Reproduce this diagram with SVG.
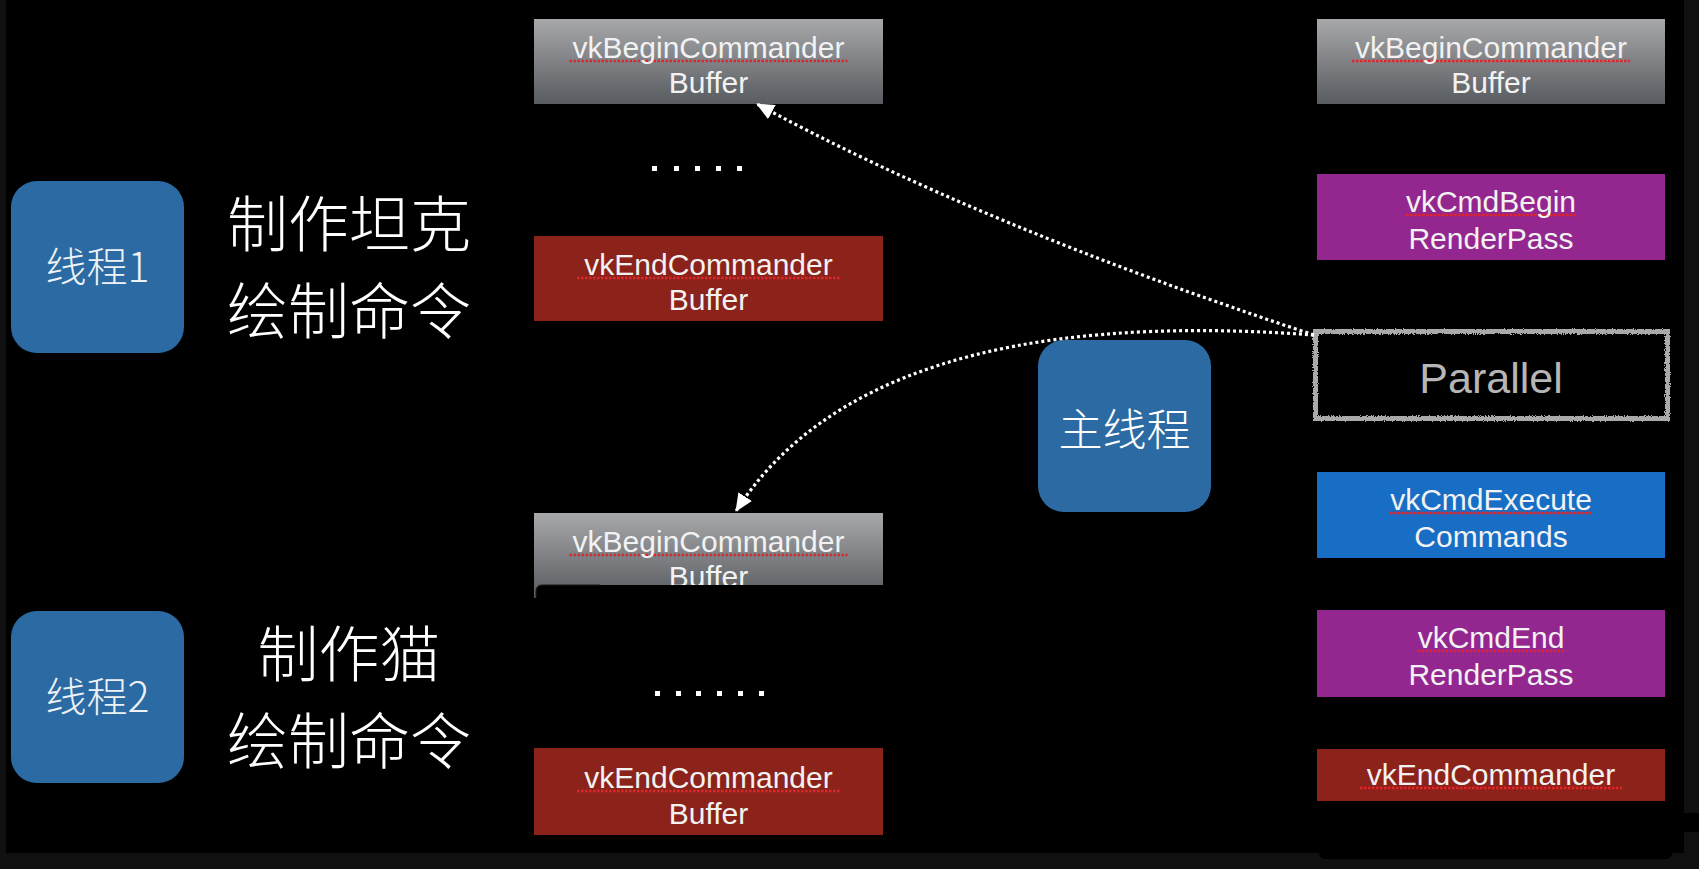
<svg xmlns="http://www.w3.org/2000/svg" width="1699" height="869" viewBox="0 0 1699 869">
  <defs>
    <linearGradient id="gGray" x1="0" y1="0" x2="0" y2="1">
      <stop offset="0" stop-color="#a7a8aa"/>
      <stop offset="1" stop-color="#585b5f"/>
    </linearGradient>
    <filter id="rough" x="-5%" y="-20%" width="110%" height="140%">
      <feTurbulence type="fractalNoise" baseFrequency="0.9" numOctaves="1" seed="3" result="n"/>
      <feDisplacementMap in="SourceGraphic" in2="n" scale="4" xChannelSelector="R" yChannelSelector="G"/>
    </filter>
    <marker id="arrow" markerUnits="userSpaceOnUse" viewBox="0 0 18 16" refX="17" refY="8" markerWidth="18" markerHeight="16" orient="auto">
      <path d="M0,0 L18,8 L0,16 z" fill="#ffffff"/>
    </marker>
    <style>
      .lat { font-family: "Liberation Sans", Arial, sans-serif; font-size: 30px; fill: #f2f2f2; text-anchor: middle; }
      .cjk { font-family: "Noto Sans CJK SC", "Noto Sans", sans-serif; fill: #ffffff; text-anchor: middle; font-weight: 300; }
      .big { font-size: 61px; }
      .thr { font-size: 41px; fill: #eef2f6; }
      .tbox { fill: #2b6aa2; }
      .gray { fill: url(#gGray); }
      .red { fill: #8c231a; }
      .purple { fill: #93278f; }
      .blue { fill: #176ec4; }
      .squig { stroke: #e0262a; stroke-width: 2.6; stroke-dasharray: 2.5 1.5; fill: none; }
      .dot { fill: #ffffff; }
      .conn { fill: none; stroke: #ffffff; stroke-width: 3.2; stroke-dasharray: 3 3; }
    </style>
  </defs>

  <!-- background frame -->
  <rect x="0" y="0" width="1699" height="869" fill="#101010"/>
  <rect x="6" y="0" width="1678" height="853" fill="#000000"/>
  <rect x="1672" y="813" width="27" height="19" fill="#000000"/>
  <rect x="1319" y="790" width="353" height="69" rx="6" fill="#000000"/>

  <!-- left: threads -->
  <g id="thread1">
    <rect class="tbox" x="11" y="181" width="173" height="172" rx="26"/>
    <text class="cjk thr" x="97.5" y="282">线程1</text>
  </g>
  <g id="thread1-label">
    <text class="cjk big" x="349" y="247">制作坦克</text>
    <text class="cjk big" x="349" y="334">绘制命令</text>
  </g>
  <g id="thread2">
    <rect class="tbox" x="11" y="611" width="173" height="172" rx="26"/>
    <text class="cjk thr" x="97.5" y="712">线程2</text>
  </g>
  <g id="thread2-label">
    <text class="cjk big" x="349" y="677">制作猫</text>
    <text class="cjk big" x="349" y="764">绘制命令</text>
  </g>
  <g id="main-thread">
    <rect class="tbox" x="1038" y="340" width="173" height="172" rx="26"/>
    <text class="cjk" x="1124.5" y="446" font-size="44" fill="#eef2f6">主线程</text>
  </g>

  <!-- middle column: thread 1 -->
  <g id="t1-begin">
    <rect class="gray" x="534" y="19" width="349" height="85"/>
    <line class="squig" x1="569.5" y1="61" x2="847.5" y2="61"/>
    <text class="lat" x="708.5" y="58">vkBeginCommander</text>
    <text class="lat" x="708.5" y="93">Buffer</text>
  </g>
  <g id="t1-dots">
    <rect class="dot" x="652" y="166" width="5" height="5"/>
    <rect class="dot" x="674" y="166" width="5" height="5"/>
    <rect class="dot" x="695" y="166" width="5" height="5"/>
    <rect class="dot" x="716" y="166" width="5" height="5"/>
    <rect class="dot" x="737" y="166" width="5" height="5"/>
  </g>
  <g id="t1-end">
    <rect class="red" x="534" y="236" width="349" height="85"/>
    <line class="squig" x1="577" y1="278" x2="840" y2="278"/>
    <text class="lat" x="708.5" y="275">vkEndCommander</text>
    <text class="lat" x="708.5" y="310">Buffer</text>
  </g>

  <!-- middle column: thread 2 -->
  <g id="t2-begin">
    <rect class="gray" x="534" y="513" width="349" height="85"/>
    <line class="squig" x1="569.5" y1="555" x2="847.5" y2="555"/>
    <text class="lat" x="708.5" y="552">vkBeginCommander</text>
    <text class="lat" x="708.5" y="587">Buffer</text>
    <rect x="536" y="585" width="370" height="110" rx="6" fill="#000000"/>
    <path d="M536,598 L536,591 Q536,585 542,585 L600,585" fill="none" stroke="#1c1c1c" stroke-width="1"/>
  </g>
  <g id="t2-dots">
    <rect class="dot" x="655" y="691" width="5" height="5"/>
    <rect class="dot" x="676" y="691" width="5" height="5"/>
    <rect class="dot" x="696" y="691" width="5" height="5"/>
    <rect class="dot" x="717" y="691" width="5" height="5"/>
    <rect class="dot" x="738" y="691" width="5" height="5"/>
    <rect class="dot" x="759" y="691" width="5" height="5"/>
  </g>
  <g id="t2-end">
    <rect class="red" x="534" y="748" width="349" height="87"/>
    <line class="squig" x1="577" y1="791" x2="840" y2="791"/>
    <text class="lat" x="708.5" y="788">vkEndCommander</text>
    <text class="lat" x="708.5" y="824">Buffer</text>
  </g>

  <!-- right column: main thread commands -->
  <g id="m-begin">
    <rect class="gray" x="1317" y="19" width="348" height="85"/>
    <line class="squig" x1="1352" y1="61" x2="1630" y2="61"/>
    <text class="lat" x="1491" y="58">vkBeginCommander</text>
    <text class="lat" x="1491" y="93">Buffer</text>
  </g>
  <g id="m-beginpass">
    <rect class="purple" x="1317" y="174" width="348" height="86"/>
    <line class="squig" x1="1406" y1="215" x2="1576" y2="215"/>
    <text class="lat" x="1491" y="212">vkCmdBegin</text>
    <text class="lat" x="1491" y="249">RenderPass</text>
  </g>
  <g id="m-parallel">
    <rect x="1314" y="330" width="355" height="90" fill="#000000"/>
    <rect x="1315.5" y="331.5" width="352" height="87" fill="none" stroke="#a9a9a9" stroke-width="5" filter="url(#rough)"/>
    <text x="1491" y="393" font-family="Liberation Sans, Arial, sans-serif" font-size="43" fill="#b6b6b6" text-anchor="middle">Parallel</text>
  </g>
  <g id="m-execute">
    <rect class="blue" x="1317" y="472" width="348" height="86"/>
    <line class="squig" x1="1390" y1="513" x2="1592" y2="513"/>
    <text class="lat" x="1491" y="510">vkCmdExecute</text>
    <text class="lat" x="1491" y="547">Commands</text>
  </g>
  <g id="m-endpass">
    <rect class="purple" x="1317" y="610" width="348" height="87"/>
    <line class="squig" x1="1417.5" y1="651" x2="1564.5" y2="651"/>
    <text class="lat" x="1491" y="648">vkCmdEnd</text>
    <text class="lat" x="1491" y="685">RenderPass</text>
  </g>
  <g id="m-end">
    <rect class="red" x="1317" y="749" width="348" height="52"/>
    <line class="squig" x1="1360" y1="788" x2="1622" y2="788"/>
    <text class="lat" x="1491" y="785">vkEndCommander</text>
  </g>

  <!-- connectors -->
  <g id="connectors">
    <path class="conn" d="M1314,335 Q980,225 757,104" marker-end="url(#arrow)"/>
    <path class="conn" d="M1314,335 C1000,312 820,380 736,511" marker-end="url(#arrow)"/>
  </g>
</svg>
